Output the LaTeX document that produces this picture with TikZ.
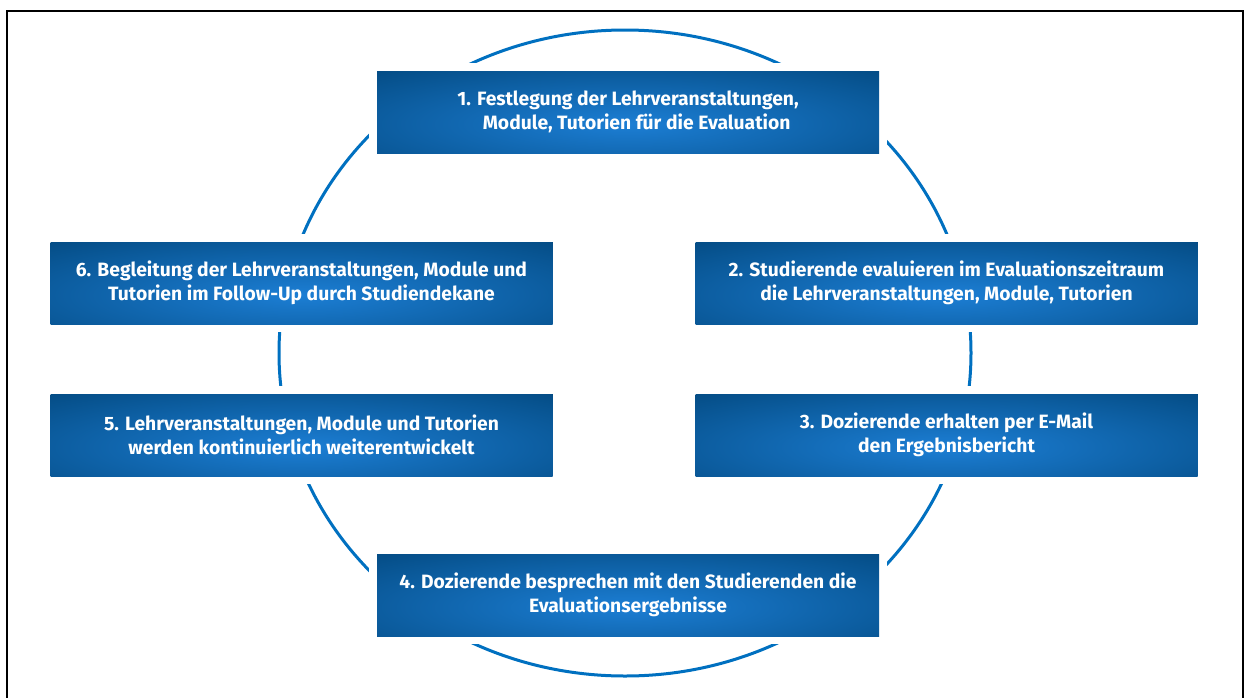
\documentclass[tikz,border=0pt]{standalone}
\usepackage{fontspec}
\setmainfont{Fira Sans}
\definecolor{ringblue}{RGB}{0,112,192}
\definecolor{boxdark}{RGB}{0,68,120}
\definecolor{boxlight}{RGB}{28,126,212}
\tikzset{
  stagebox/.style={
    rectangle, minimum width=502pt, minimum height=82pt, inner sep=0pt,
    align=center, text=white,
    font=\fontsize{19.3}{24}\selectfont\bfseries,
    fill=boxdark,
    preaction={draw=white, line width=16pt},
    path picture={\shade[inner color=boxlight, outer color=boxdark]
      ([yshift=-12pt]path picture bounding box.center) ellipse (440pt and 84pt);}
  },
  ring/.style={draw=ringblue, line width=3pt}
}
\begin{document}
\begin{tikzpicture}[x=1pt,y=-1pt]
\useasboundingbox (0,0) rectangle (1248,697);
\draw[line width=2pt, black] (7,710) -- (7,11) -- (1243,11) -- (1243,710);
\coordinate (center) at (625,353);
\draw[ring] (center) ellipse (346pt and 323pt);
\node[stagebox] (box1) at (628,112) {1. Festlegung der Lehrveranstaltungen,\\\hspace*{0.9em}Module, Tutorien für die Evaluation};
\node[stagebox] (box2) at (946.5,283) {2. Studierende evaluieren im Evaluationszeitraum\\die Lehrveranstaltungen, Module, Tutorien};
\node[stagebox] (box3) at (946.5,435) {3. Dozierende erhalten per E-Mail\\den Ergebnisbericht};
\node[stagebox] (box4) at (628,595) {4. Dozierende besprechen mit den Studierenden die\\Evaluationsergebnisse};
\node[stagebox] (box5) at (301.5,435) {5. Lehrveranstaltungen, Module und Tutorien\\werden kontinuierlich weiterentwickelt};
\node[stagebox] (box6) at (301.5,283) {6. Begleitung der Lehrveranstaltungen, Module und\\Tutorien im Follow-Up durch Studiendekane};
\end{tikzpicture}
\end{document}
